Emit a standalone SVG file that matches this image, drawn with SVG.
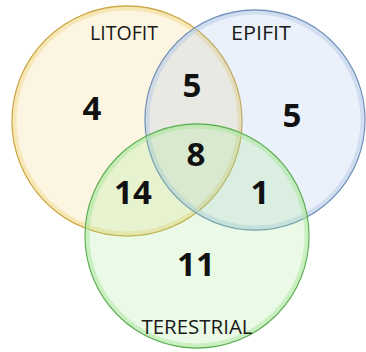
<svg xmlns="http://www.w3.org/2000/svg" width="366" height="352" viewBox="0 0 366 352">
  <style>
    .label { font-family: "Open Sans", "Noto Sans", "Liberation Sans", sans-serif; font-size: 20px; fill: #1a1a1a; text-anchor: middle; }
    .num { font-family: "Noto Sans", "Open Sans", "Liberation Sans", sans-serif; font-size: 33px; font-weight: bold; fill: #111; text-anchor: middle; }
    .rim { fill: none; stroke-width: 4; stroke-opacity: 0.5; }
    .edge { stroke-width: 1.3; }
  </style>
  <rect width="366" height="352" fill="#ffffff"/>

  <!-- LITOFIT set -->
  <g id="litofit">
    <circle cx="127" cy="121" r="115" fill="#F5D98A" fill-opacity="0.26" stroke="#C9A440" class="edge"/>
    <circle cx="127" cy="121" r="112.5" class="rim" stroke="#F3D98C"/>
  </g>

  <!-- EPIFIT set -->
  <g id="epifit">
    <circle cx="255" cy="120" r="110" fill="#9DB8E4" fill-opacity="0.2" stroke="#6F8FB8" class="edge"/>
    <circle cx="255" cy="120" r="107.5" class="rim" stroke="#B7CBE8"/>
  </g>

  <!-- TERESTRIAL set -->
  <g id="terestrial">
    <circle cx="197" cy="236" r="112" fill="#9EE68F" fill-opacity="0.22" stroke="#5FAE55" class="edge"/>
    <circle cx="197" cy="236" r="109.5" class="rim" stroke="#A9E69C"/>
  </g>

  <!-- set names -->
  <g id="labels">
    <text class="label" x="124" y="40" textLength="68" lengthAdjust="spacingAndGlyphs">LITOFIT</text>
    <text class="label" x="261" y="40" textLength="60" lengthAdjust="spacingAndGlyphs">EPIFIT</text>
    <text class="label" x="197" y="334" textLength="111" lengthAdjust="spacingAndGlyphs">TERESTRIAL</text>
  </g>

  <!-- region counts -->
  <g id="counts">
    <text class="num" x="92" y="120">4</text>
    <text class="num" x="192" y="97">5</text>
    <text class="num" x="292" y="127">5</text>
    <text class="num" x="196" y="166">8</text>
    <text class="num" x="133" y="204">14</text>
    <text class="num" x="260" y="204">1</text>
    <text class="num" x="196" y="276">11</text>
  </g>
</svg>
